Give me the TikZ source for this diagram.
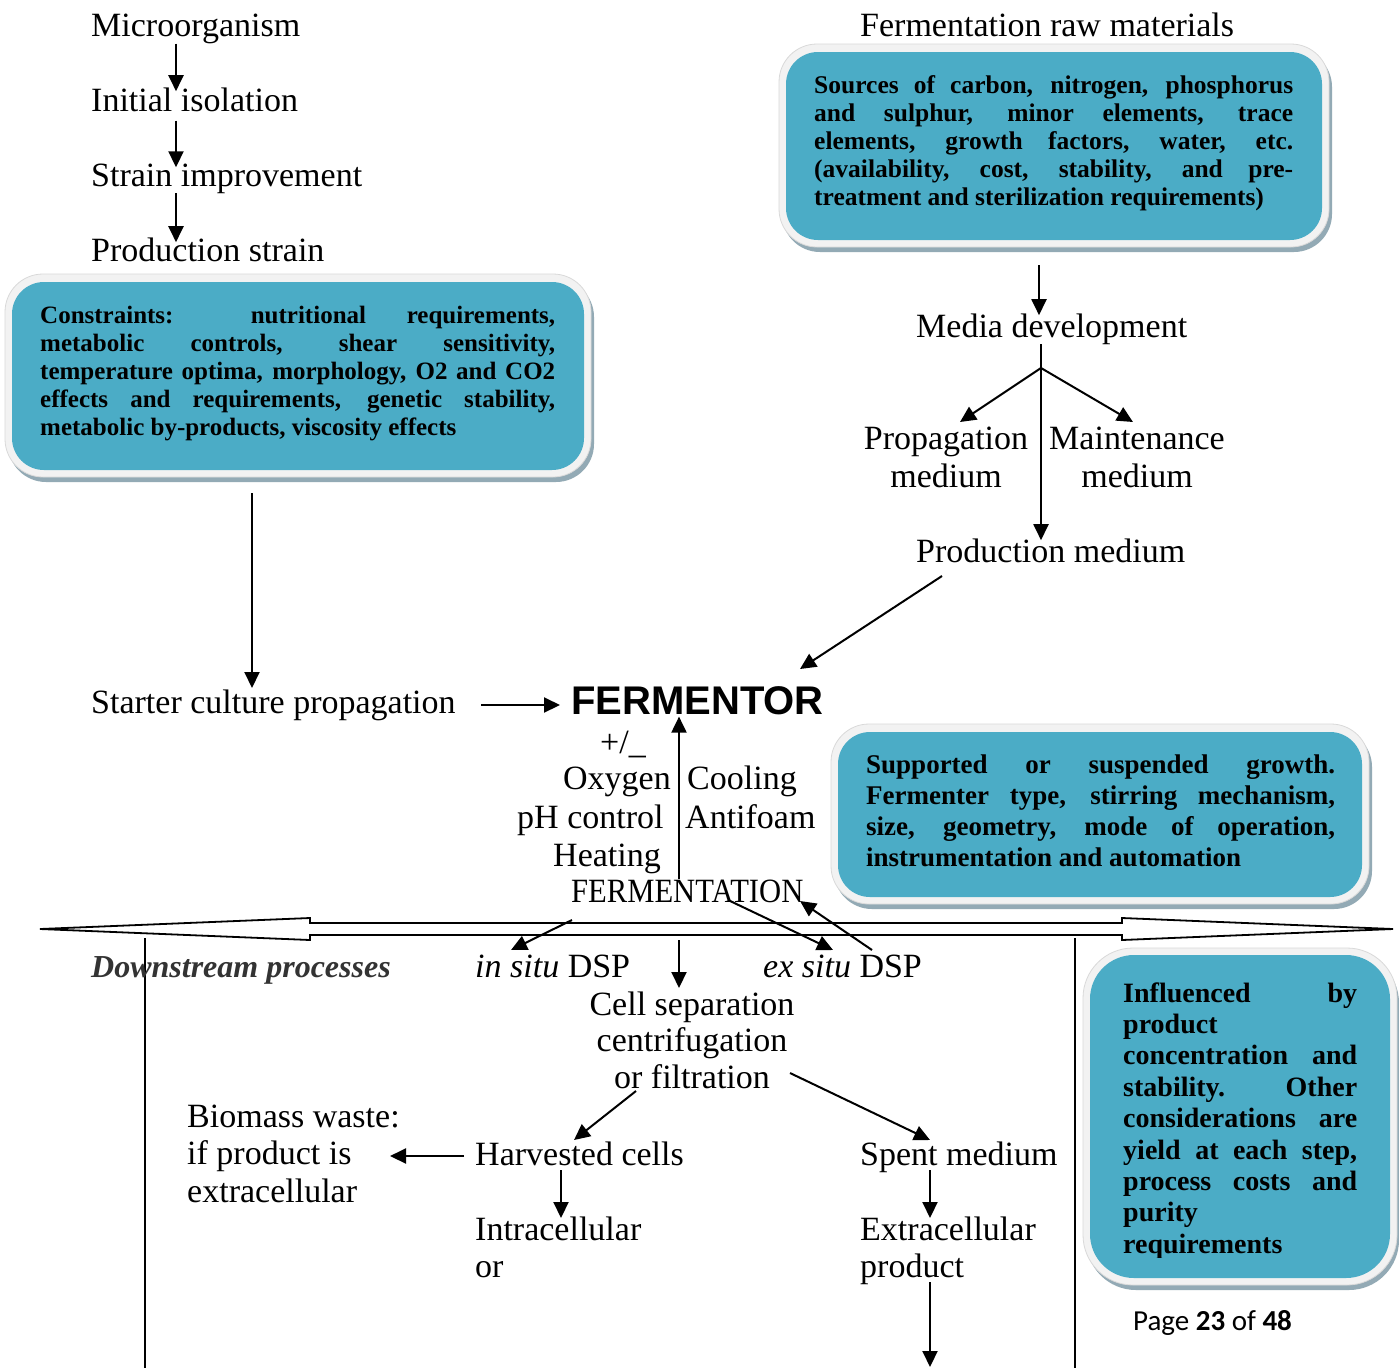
\documentclass[tikz,border=0pt]{standalone}
\usepackage{fontspec}
\setmainfont{Liberation Serif}
\newfontfamily\fermfont{Liberation Sans}
\newfontfamily\pagefont{Carlito}
\usetikzlibrary{arrows.meta}
\definecolor{boxblue}{HTML}{4BACC6}
\definecolor{rimcol}{HTML}{F2F2F2}
\definecolor{rimedge}{HTML}{D9D9D9}
\definecolor{shadowcol}{HTML}{93AAB5}
\definecolor{dsgray}{HTML}{333333}
\newcommand{\jline}[1]{\makebox[\hsize][s]{#1}\\}
\begin{document}
\begin{tikzpicture}[x=1pt,y=-1pt,
  arr/.style={-{Triangle[length=16pt,width=15pt]},line width=2pt},
  ln/.style={line width=2pt},
  lbl/.style={inner sep=0pt,font=\fontsize{34}{38}\selectfont},
  mlbl/.style={lbl,text width=#1,align=flush left},
  clbl/.style={lbl,text width=#1,align=flush center},
  boxtxt/.style={inner sep=0pt,text width=#1,align=flush left},
  shadowbox/.style={fill=shadowcol},
  rimbox/.style={fill=rimcol,draw=rimedge,line width=0.8pt},
  bluebox/.style={fill=boxblue},
]
\useasboundingbox (0,0) rectangle (1399,1368);
\fill[white] (0,0) rectangle (1399,1368);

% ---------- boxes ----------
% box 1 (constraints)
\fill[shadowbox,rounded corners=38pt] (8,279) rectangle (594,482);
\fill[rimbox,rounded corners=38pt] (5,274) rectangle (591,477);
\fill[bluebox,rounded corners=32pt] (12,282) rectangle (584,470);
% box 2 (raw materials)
\fill[shadowbox,rounded corners=38pt] (782,49) rectangle (1332,252);
\fill[rimbox,rounded corners=38pt] (779,44) rectangle (1329,247);
\fill[bluebox,rounded corners=32pt] (786,52) rectangle (1322,240);
% box 3 (fermenter)
\fill[shadowbox,rounded corners=38pt] (834,729) rectangle (1372,909);
\fill[rimbox,rounded corners=38pt] (831,724) rectangle (1369,904);
\fill[bluebox,rounded corners=32pt] (838,732) rectangle (1362,897);
% box 4 (influenced)
\fill[shadowbox,rounded corners=50pt] (1086,953) rectangle (1399,1290);
\fill[rimbox,rounded corners=50pt] (1083,948) rectangle (1397,1285);
\fill[bluebox,rounded corners=44pt] (1090,955) rectangle (1390,1278);

\node[boxtxt=515pt,anchor=base west,font=\fontsize{25}{28}\selectfont\bfseries] (b1) at (40,323) {%
\jline{Constraints: nutritional requirements,}
\jline{metabolic controls, shear sensitivity,}
\jline{temperature optima, morphology, O2 and CO2}
\jline{effects and requirements, genetic stability,}
metabolic by-products, viscosity effects};

\node[boxtxt=479pt,anchor=base west,font=\fontsize{25.5}{28}\selectfont\bfseries] (b2) at (814,93) {%
\jline{Sources of carbon, nitrogen, phosphorus}
\jline{and sulphur, minor elements, trace}
\jline{elements, growth factors, water, etc.}
\jline{(availability, cost, stability, and pre-}
treatment and sterilization requirements)};

\node[boxtxt=469pt,anchor=base west,font=\fontsize{27}{31.3}\selectfont\bfseries] (b3) at (866,773) {%
\jline{Supported or suspended growth.}
\jline{Fermenter type, stirring mechanism,}
\jline{size, geometry, mode of operation,}
instrumentation and automation};

\begin{scope}
\clip (1090,955) rectangle (1390,1257);
\node[boxtxt=234pt,anchor=base west,font=\fontsize{28}{31.4}\selectfont\bfseries] (b4) at (1123,1002) {%
\jline{Influenced by}
product\\
\jline{concentration and}
\jline{stability. Other}
\jline{considerations are}
\jline{yield at each step,}
\jline{process costs and}
purity\\
requirements};
\end{scope}

% ---------- left column ----------
\node[lbl,anchor=base west] (micro) at (91,36) {Microorganism};
\node[lbl,anchor=base west] (init) at (91,111) {Initial isolation};
\node[lbl,anchor=base west] (strimp) at (91,186) {Strain improvement};
\node[lbl,anchor=base west] (pstrain) at (91,261) {Production strain};
\draw[arr] (micro.south -| 176,0) -- ([yshift=-4pt]init.north -| 176,0);
\draw[arr] ([yshift=-9pt]init.south -| 176,0) -- ([yshift=-4pt]strimp.north -| 176,0);
\draw[arr] (strimp.south -| 176,0) -- ([yshift=-5pt]pstrain.north -| 176,0);

% ---------- right top ----------
\node[lbl,anchor=base west] (raw) at (860,36) {Fermentation raw materials};
\node[lbl,anchor=base west] (media) at (916,337) {Media development};
\coordinate (b2out) at (1039,265);
\draw[arr] (b2out) -- ([yshift=-2pt]media.north -| b2out);
\node[clbl=200pt,anchor=base] (prop) at (946,449) {Propagation\\medium};
\node[clbl=200pt,anchor=base] (maint) at (1137,449) {Maintenance\\medium};
\node[lbl,anchor=base west] (prodmed) at (916,562) {Production medium};
\coordinate (br) at (1041,368);
\draw[ln] (media.south -| br) -- (br);
\draw[arr] (br) -- (960,422);
\draw[arr] (br) -- (1133,422);
\draw[arr] (br) -- ([yshift=-2pt]prodmed.north -| br);

% ---------- fermentor ----------
\node[inner sep=0pt,anchor=base west,font=\fermfont\fontsize{40}{44}\selectfont\bfseries] (ferm) at (571,714) {FERMENTOR};
\draw[arr] (942,576) -- (800,669);
\coordinate (b1out) at (252,493);
\node[lbl,anchor=base west] (starter) at (91,713) {Starter culture propagation};
\draw[arr] (b1out) -- (252,688);
\draw[arr] (481,705) -- ([xshift=-11pt]ferm.west |- 0,705);

\node[lbl,anchor=base west] (pm) at (600,753) {+/\_};
\node[lbl,anchor=base east] (oxy) at (671,789) {Oxygen};
\node[lbl,anchor=base west] (cool) at (687,789) {Cooling};
\node[lbl,anchor=base west] (ph) at (517,828) {pH control};
\node[lbl,anchor=base west] (anti) at (685,828) {Antifoam};
\node[lbl,anchor=base west] (heat) at (553,866) {Heating};
\node[lbl,anchor=base west] (fermtn) at (571,902) {\scalebox{0.9}[1]{FERMENTATION}};
\draw[arr] (fermtn.north -| 679,0) -- ([yshift=-2pt]ferm.south -| 679,0);

% ---------- double block arrow ----------
\draw[line width=1.8pt,fill=white,line join=miter]
  (40,929) -- (310,918) -- (310,923) -- (1122,923) -- (1122,918) -- (1393,929)
  -- (1122,940) -- (1122,935) -- (310,935) -- (310,940) -- cycle;

% ---------- downstream ----------
\draw[ln] (145,938) -- (145,1368);
\draw[ln] (1075,938) -- (1075,1368);
\node[inner sep=0pt,anchor=base west,text=dsgray,font=\fontsize{32}{36}\selectfont\bfseries\itshape] (ds) at (91,977) {Downstream processes};
\node[lbl,anchor=base west] (insitu) at (475,977) {\textit{in situ} DSP};
\node[lbl,anchor=base west] (exsitu) at (763,977) {\textit{ex situ} DSP};
\draw[arr] (572,920) -- (511,950);
\draw[arr] (728,900) -- (833,950);
\draw[arr] (872,950) -- (800,901);

\node[clbl=300pt,anchor=base,font=\fontsize{34}{36.5}\selectfont] (cell) at (692,1015) {Cell separation\\centrifugation\\or filtration};
\draw[arr] (679,940) -- (679,988);
\node[lbl,anchor=base west] (harv) at (475,1165) {Harvested cells};
\node[mlbl=260pt,anchor=base west,font=\fontsize{34}{37.5}\selectfont] (bio) at (187,1127) {Biomass waste:\\if product is\\extracellular};
\node[mlbl=260pt,anchor=base west,font=\fontsize{34}{37}\selectfont] (intra) at (475,1240) {Intracellular\\or};
\node[lbl,anchor=base west] (spent) at (860,1165) {Spent medium};
\node[mlbl=220pt,anchor=base west,font=\fontsize{34}{37}\selectfont] (extra) at (860,1240) {Extracellular\\product};
\draw[arr] (636,1091) -- (574,1140);
\draw[arr] (790,1073) -- (930,1140);
\draw[arr] (464,1156) -- (390,1156);
\draw[arr] (561,1170) -- (561,1218);
\draw[arr] (930,1170) -- (930,1218);
\draw[arr] (930,1282) -- (930,1367);

\node[inner sep=0pt,anchor=base west,font=\pagefont\fontsize{29}{32}\selectfont] (page) at (1133,1330) {Page \textbf{23} of \textbf{48}};
\end{tikzpicture}
\end{document}
